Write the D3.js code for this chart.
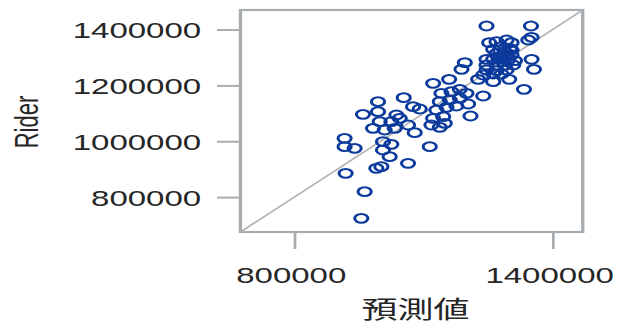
<!DOCTYPE html>
<html>
<head>
<meta charset="utf-8">
<script src="https://cdn.jsdelivr.net/npm/d3@7"></script>
<style>
  html, body { margin: 0; padding: 0; background: #fff; }
  svg { display: block; }
</style>
</head>
<body>
<div id="chart"></div>
<script>
// ---- data ----
const predicted = [
  1246500, 1349700, 1343500, 1351200, 1252700, 1269800, 1293100, 1304700, 1281400, 1262000,
  1300800, 1289200, 1269800, 1304700, 1246500, 1262000, 1281400, 1296900, 1312500, 1351200,
  1356700, 1246500, 1269800, 1289200, 1246500, 1269800, 1293100, 1238800, 1262000, 1281400,
  1227100, 1262000, 1299300, 1333400, 1238800,
  1277600, 1293100, 1285300, 1304700, 1273700, 1308600,
  1196100, 1188400, 1122500, 1159700, 1141800, 1165100, 1184500, 1200000, 1138000, 1161200,
  1184500, 1203900, 1130200, 1153500, 1176700, 1209300, 1122500, 1145700, 1118600, 1138000,
  1149600, 1114700,
  994500, 1054200, 959600, 994500, 1037200, 1044900, 1075900, 1091400, 998400, 1025500,
  982900, 1010000, 1033300, 1064300, 1079800, 916900, 916900, 940200, 1006100, 1025500,
  1006100, 1021600, 1064300, 990600, 1002300, 919300, 963500, 955700
];
const rider = [
  1412700, 1412700, 1362600, 1372100, 1353000, 1356600, 1362600, 1353000, 1338700, 1329100,
  1332700, 1320800, 1314800, 1308800, 1293300, 1293300, 1296900, 1290900, 1288500, 1293300,
  1257500, 1273000, 1273000, 1273000, 1255100, 1252700, 1255100, 1237200, 1240800, 1240800,
  1221700, 1213300, 1221700, 1185900, 1162000,
  1326700, 1308800, 1285000, 1326700, 1296900, 1273000,
  1281400, 1257500, 1207400, 1221700, 1171600, 1177500, 1185900, 1171600, 1141700, 1147700,
  1153700, 1133400, 1111900, 1121400, 1126200, 1090400, 1082000, 1088000, 1058200, 1049800,
  1064100, 980600,
  1141700, 1156000, 1096400, 1105900, 1094000, 1082000, 1123800, 1115500, 1070100, 1070100,
  1046200, 1040300, 1046200, 1058200, 1030700, 1010400, 980600, 974600, 998500, 988900,
  968600, 944800, 920900, 903000, 909000, 885100, 819400, 723900
];
const xTicks = [800000, 1400000];
const yTicks = [800000, 1000000, 1200000, 1400000];
const axisDomain = [675000, 1470000];
const xTitle = "預測値";
const yTitle = "Rider";

// ---- layout (internal units, stretched horizontally 1.5x) ----
const W = 617, H = 327, SX = 1.5;
const IW = W / SX;
const plot = { left: 160.3, right: 388.5, top: 10, bottom: 232 };
const gridColor = "#a7acb1";
const textColor = "#262626";
const font = "'Liberation Sans', Arial, sans-serif";

const svg = d3.select("#chart").append("svg")
  .attr("width", W).attr("height", H)
  .attr("viewBox", `0 0 ${IW} ${H}`)
  .attr("preserveAspectRatio", "none");

const x = d3.scaleLinear().domain(axisDomain).range([plot.left, plot.right]);
const y = d3.scaleLinear().domain(axisDomain).range([plot.bottom, plot.top]);

// Y axis
const yAxis = svg.append("g")
  .attr("transform", `translate(${plot.left},0)`)
  .call(d3.axisLeft(y).tickValues(yTicks).tickSize(15.6).tickPadding(10.6)
    .tickFormat(d3.format("d")).tickSizeOuter(0));
yAxis.select(".domain").remove();
yAxis.selectAll("line").attr("stroke", gridColor).attr("stroke-width", 2);
yAxis.selectAll("text").attr("fill", textColor)
  .style("font-family", font).style("font-size", "22px")
  .attr("dy", "0.36em");

// X axis
const xAxis = svg.append("g")
  .attr("transform", `translate(0,${plot.bottom})`)
  .call(d3.axisBottom(x).tickValues(xTicks).tickSize(17).tickPadding(10)
    .tickFormat(d3.format("d")).tickSizeOuter(0));
xAxis.select(".domain").remove();
xAxis.selectAll("line").attr("stroke", gridColor).attr("stroke-width", 1.8);
xAxis.selectAll("text").attr("fill", textColor)
  .style("font-family", font).style("font-size", "22px")
  .attr("y", 51).attr("dy", 0).attr("dx", -2.5);

// frame
svg.append("rect")
  .attr("x", plot.left).attr("y", plot.top)
  .attr("width", plot.right - plot.left).attr("height", plot.bottom - plot.top)
  .attr("fill", "none").attr("stroke", gridColor).attr("stroke-width", 2.2);

// diagonal y = x
svg.append("line")
  .attr("x1", x(axisDomain[0])).attr("y1", y(axisDomain[0]))
  .attr("x2", x(axisDomain[1])).attr("y2", y(axisDomain[1]))
  .attr("stroke", "#b3b3b3").attr("stroke-width", 1.5);

// points
const data = predicted.map((p, i) => ({ p, r: rider[i] }));
svg.append("g").selectAll("circle").data(data).join("circle")
  .attr("cx", d => x(d.p)).attr("cy", d => y(d.r))
  .attr("r", 4.4)
  .attr("fill", "none")
  .attr("stroke", "#0b3a9c").attr("stroke-width", 2);

// titles
svg.append("text")
  .attr("x", 277).attr("y", 318)
  .attr("text-anchor", "middle")
  .attr("fill", textColor)
  .style("font-family", "'Noto Sans CJK JP', sans-serif").style("font-size", "24px")
  .text(xTitle);

svg.append("text")
  .attr("transform", `translate(25.3,122) rotate(-90)`)
  .attr("text-anchor", "middle")
  .attr("fill", textColor)
  .style("font-family", font).style("font-size", "22px")
  .text(yTitle);
</script>
</body>
</html>
